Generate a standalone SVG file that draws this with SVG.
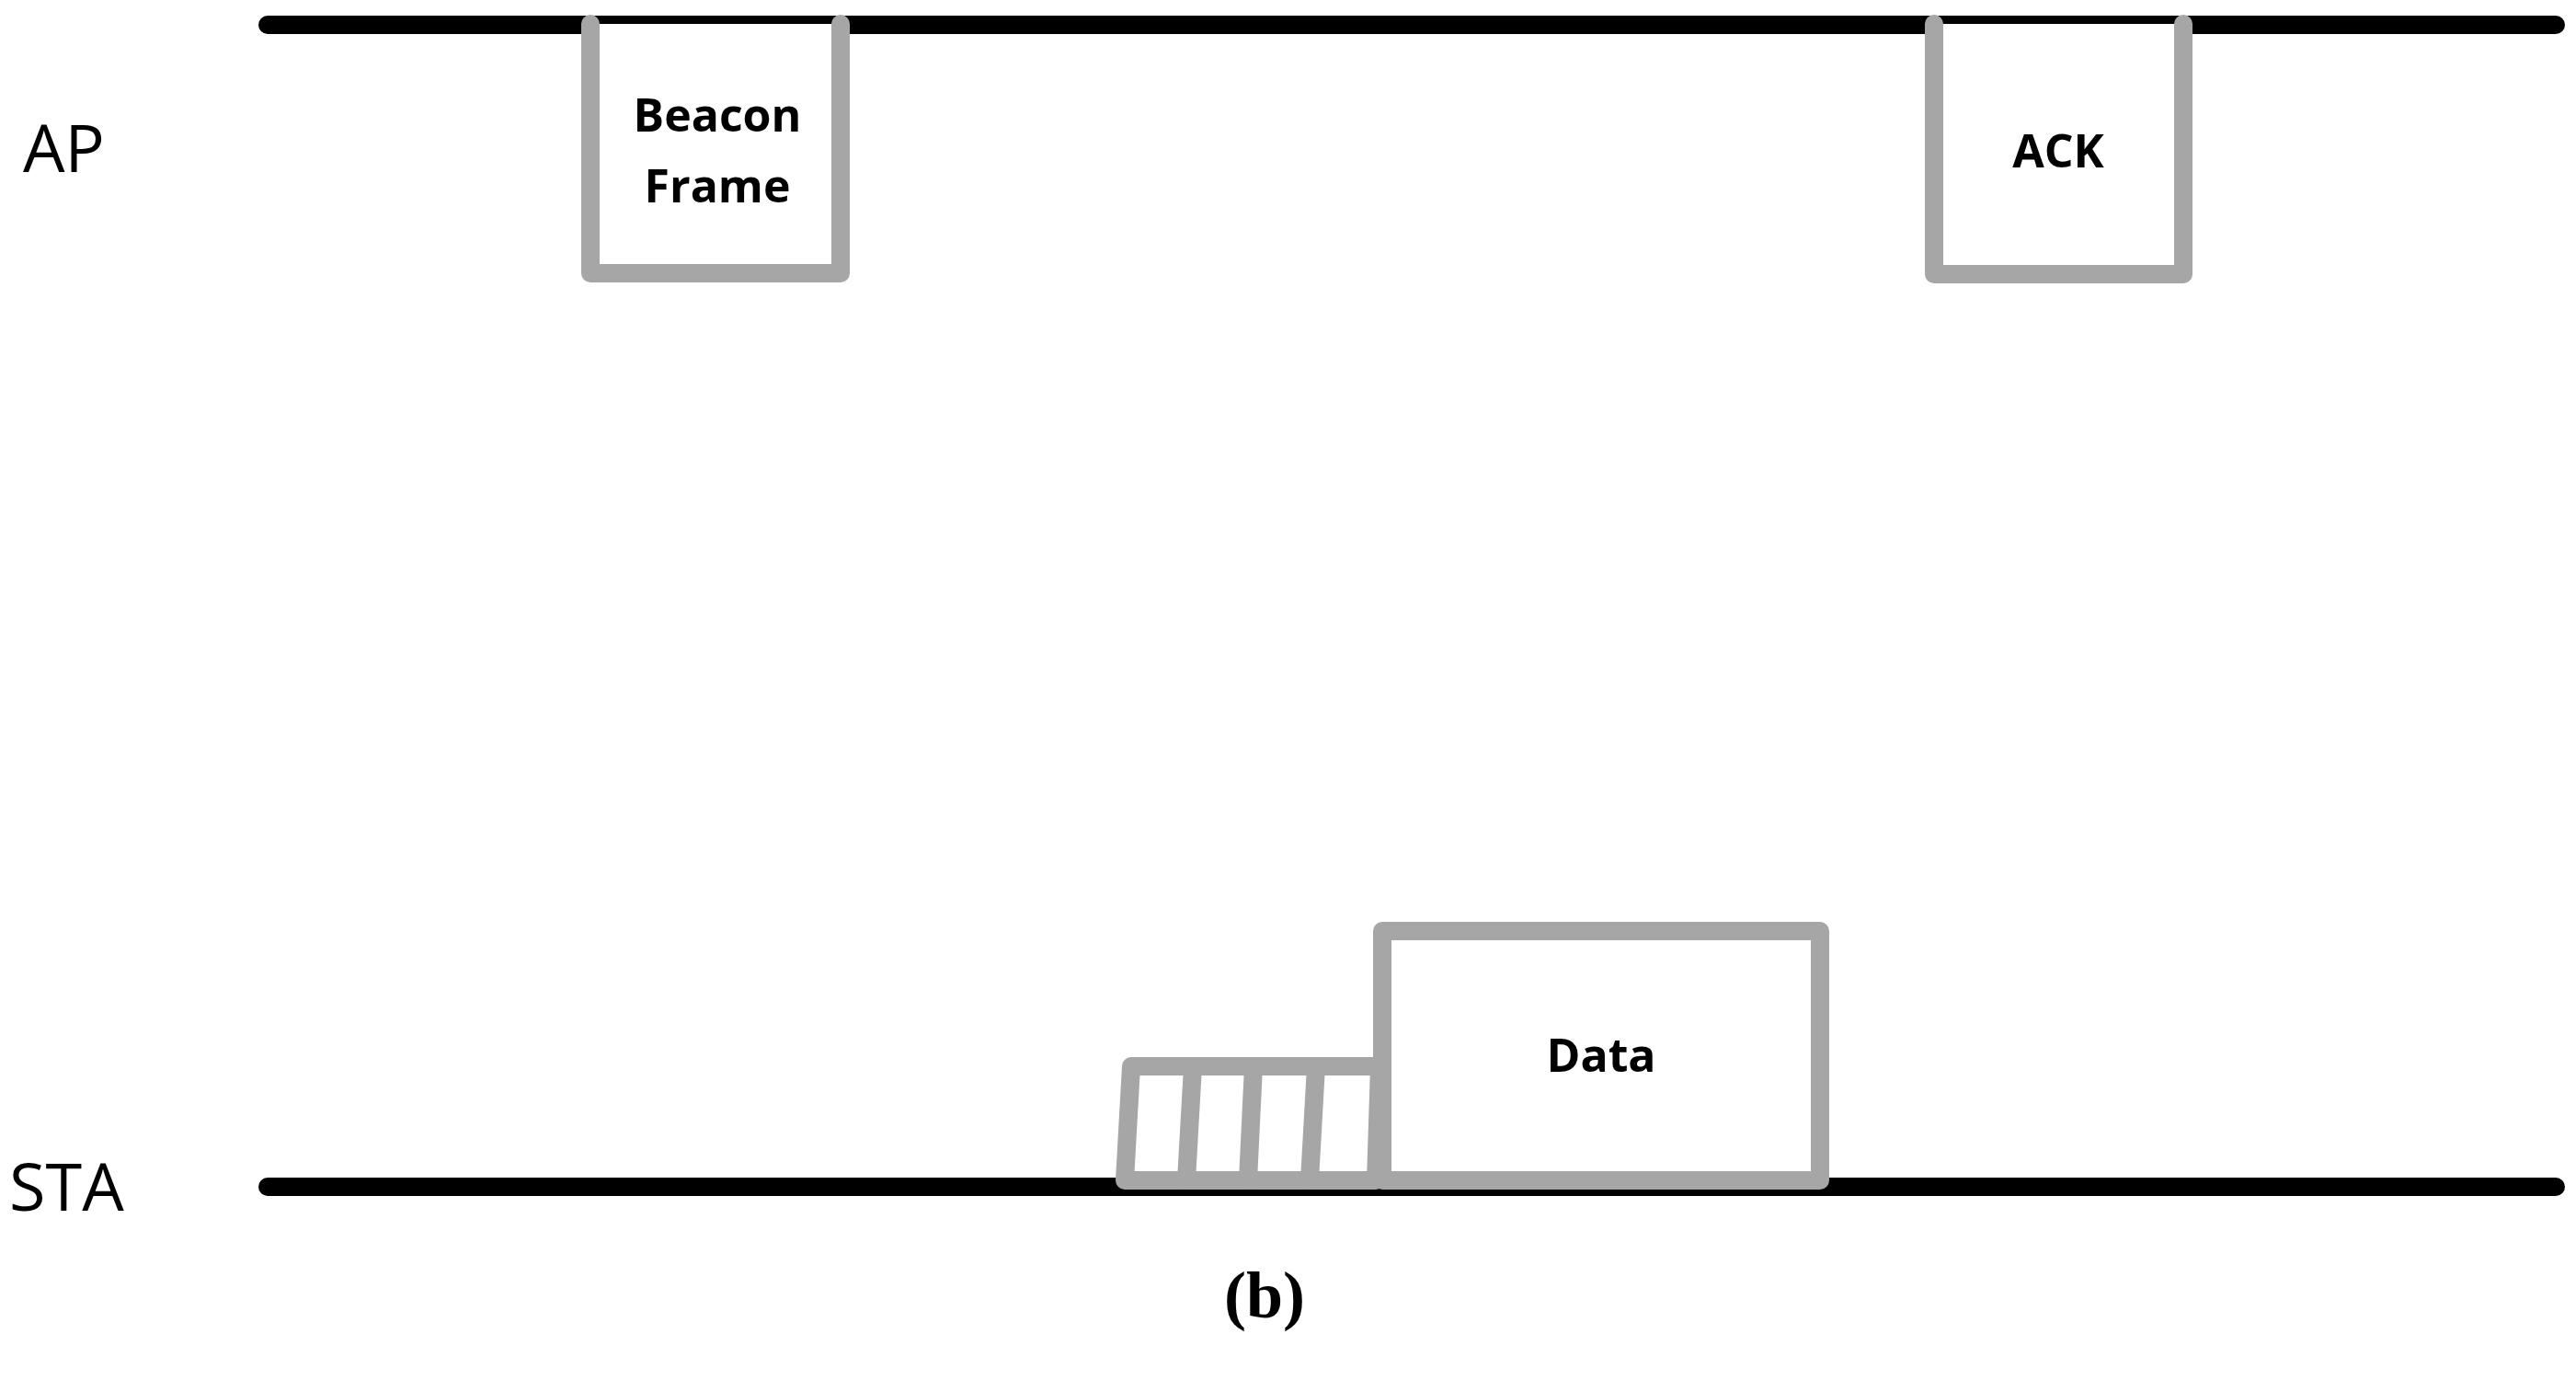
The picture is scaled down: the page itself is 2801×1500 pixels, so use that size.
<svg xmlns="http://www.w3.org/2000/svg" width="2801" height="1500" viewBox="0 0 2801 1500">
<style>
.tl{stroke:#000;stroke-width:20;stroke-linecap:round;fill:none}
.bx{stroke:#a6a6a6;stroke-width:20;stroke-linejoin:round;stroke-linecap:round;fill:#fff}
.lb{font-family:"Open Sans","DejaVu Sans",sans-serif;font-weight:bold;font-size:50px;text-anchor:middle;fill:#000}
.nm{font-family:"Open Sans","DejaVu Sans",sans-serif;font-size:72px;fill:#000}
</style>
<rect width="2801" height="1500" fill="#fff"/>
<g id="connectors">
<line class="tl" x1="291" y1="27" x2="2779" y2="27"/>
<line class="tl" x1="291" y1="1290" x2="2779" y2="1290"/>
</g>
<g id="ap"><text class="nm" x="25" y="187">AP</text></g>
<g id="sta"><text class="nm" x="10" y="1316">STA</text></g>
<g id="beacon">
<path class="bx" d="M642 26 V297 H914 V26"/>
<text class="lb" x="780" y="143">Beacon</text>
<text class="lb" x="780" y="220">Frame</text>
</g>
<g id="ack">
<path class="bx" d="M2103 26 V298 H2374 V26"/>
<text class="lb" x="2238" y="182">ACK</text>
</g>
<g id="backoff">
<path class="bx" d="M1230 1159 H1500 L1496 1283 H1223 Z"/>
<path class="bx" d="M1297 1159 L1290 1283 M1363 1159 L1357 1283 M1431 1159 L1424 1283"/>
</g>
<g id="data">
<rect class="bx" x="1503" y="1012" width="476" height="271"/>
<text class="lb" x="1741" y="1165">Data</text>
</g>
<g id="caption"><text x="1375" y="1432" font-family="Liberation Serif,serif" font-weight="bold" font-size="72" text-anchor="middle">(b)</text></g>
</svg>
